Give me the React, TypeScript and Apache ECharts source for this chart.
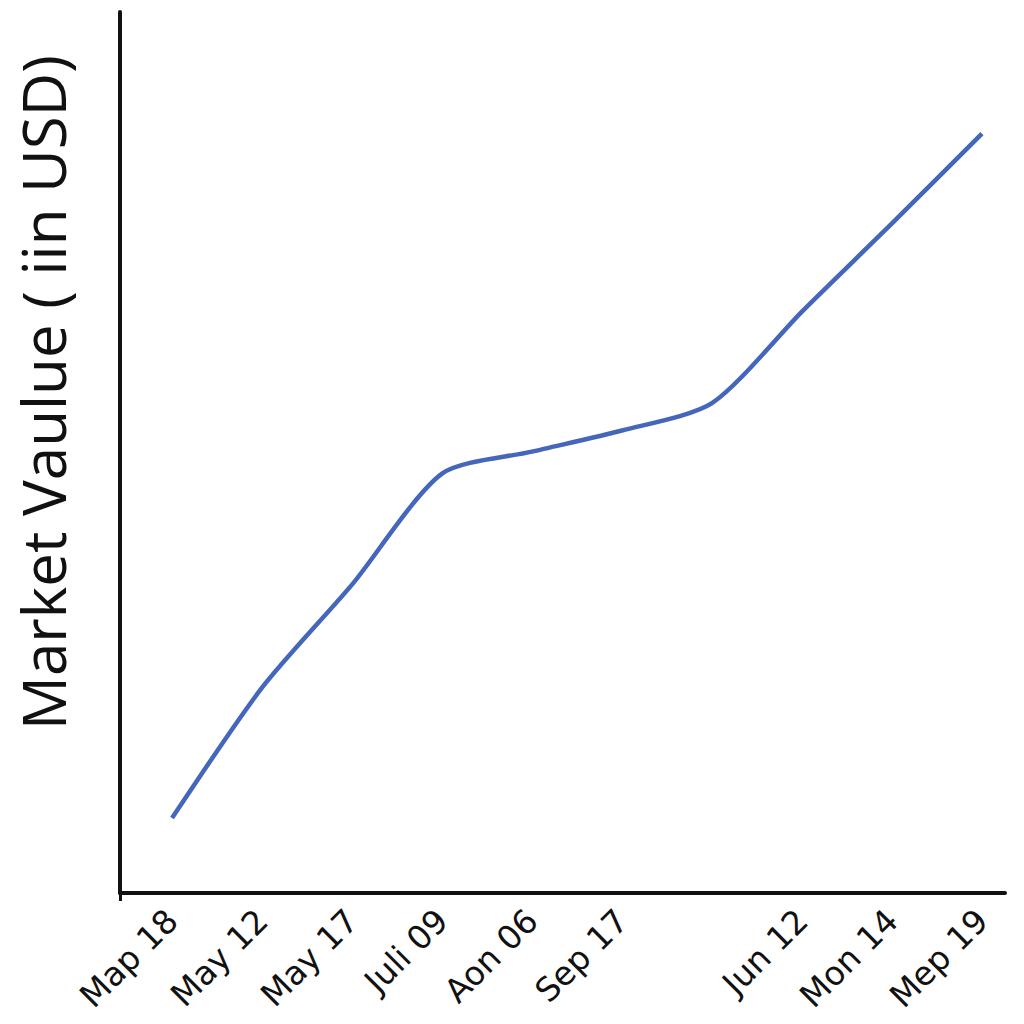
import React, { useEffect, useRef } from "react";
import * as echarts from "echarts";

const categories = ["Map 18", "May 12", "May 17", "Juli 09", "Aon 06", "Sep 17", "", "Jun 12", "Mon 14", "Mep 19"];
const positions = [0, 1, 2, 3, 4, 5, 6, 7, 8, 9];
const values = [8.5, 23.3, 35.0, 47.6, 50.1, 52.5, 55.6, 66.0, 76.0, 86.2];
const yTitle = "Market Vaulue ( iin USD)";

export default function App() {
  const ref = useRef<HTMLDivElement>(null);
  useEffect(() => {
    if (!ref.current) return;
    const chart = echarts.init(ref.current, null, { renderer: "svg" });
    chart.setOption({
      animation: false,
      backgroundColor: "#ffffff",
      grid: { left: 120, right: 19, top: 12, bottom: 131, containLabel: false, outerBoundsMode: "none" },
      xAxis: {
        type: "value",
        min: -0.578,
        max: 9.256,
        splitLine: { show: false },
        axisLine: { show: true, onZero: false, lineStyle: { color: "#111", width: 4 } },
        axisTick: { show: true, customValues: [-0.578], length: 8, lineStyle: { color: "#111", width: 3 } },
        axisLabel: {
          customValues: positions,
          rotate: 45,
          margin: 22,
          fontSize: 33,
          color: "#111",
          fontFamily: "DejaVu Sans",
          formatter: (v: number) => categories[Math.round(v)] ?? "",
        },
      },
      yAxis: {
        type: "value",
        min: 0,
        max: 100,
        name: yTitle,
        nameLocation: "middle",
        nameGap: 47,
        nameTextStyle: { fontSize: 60, lineHeight: 60, color: "#111", fontFamily: "Open Sans", padding: [0, 0, 0, 120] },
        splitLine: { show: false },
        axisLine: { show: true, onZero: false, lineStyle: { color: "#111", width: 4 } },
        axisTick: { show: false },
        axisLabel: { show: false },
      },
      series: [
        {
          type: "line",
          data: positions.map((p, i) => [p, values[i]]),
          smooth: 0.25,
          showSymbol: false,
          lineStyle: { color: "#4466bb", width: 4.5 },
        },
      ],
    });
    return () => chart.dispose();
  }, []);
  return <div ref={ref} style={{ width: 1024, height: 1024, position: "absolute", left: 0, top: 0 }} />;
}
